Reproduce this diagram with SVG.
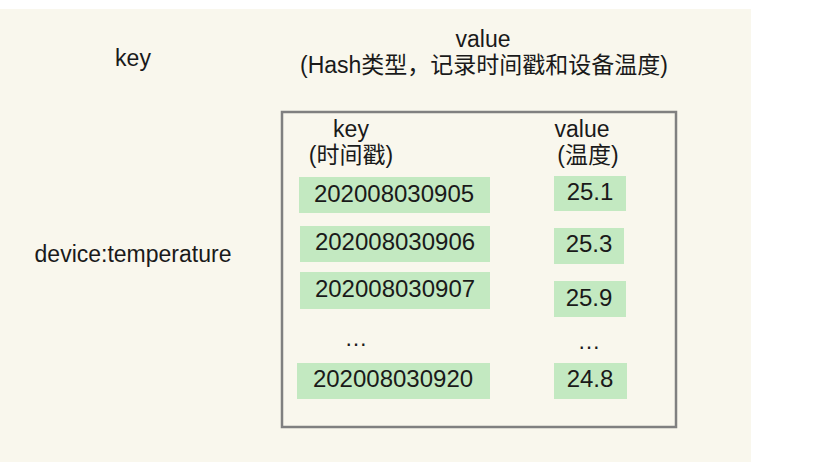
<svg xmlns="http://www.w3.org/2000/svg" width="816" height="462" viewBox="0 0 816 462">
<style>
text{font-family:"Liberation Sans","Noto Sans CJK SC",sans-serif;fill:#1a1a1a;text-anchor:middle}
.t{font-size:23px}
.d{font-size:24px}
.cell{fill:#c3e9c1}
</style>
<rect x="0" y="9" width="751" height="453" fill="#f9f7ed"/>
<g id="labels">
<text class="t" x="133" y="66">key</text>
<text class="t" x="483" y="47">value</text>
<text class="t" x="484" y="73">(Hash类型，记录时间戳和设备温度)</text>
<text class="t" x="133" y="262">device:temperature</text>
</g>
<g id="hash">
<rect x="282" y="112" width="394" height="315" fill="none" stroke="#808080" stroke-width="2.5"/>
<text class="t" x="351" y="137">key</text>
<text class="t" x="351" y="163">(时间戳)</text>
<text class="t" x="582" y="137">value</text>
<text class="t" x="588" y="163">(温度)</text>
</g>
<g id="row1">
<rect class="cell" x="299" y="177" width="191" height="36"/>
<text class="d" x="394" y="202">202008030905</text>
<rect class="cell" x="554" y="176" width="72" height="35"/>
<text class="d" x="590" y="200">25.1</text>
</g>
<g id="row2">
<rect class="cell" x="300" y="226" width="190" height="36"/>
<text class="d" x="395" y="250">202008030906</text>
<rect class="cell" x="554" y="228" width="70" height="36"/>
<text class="d" x="589" y="252">25.3</text>
</g>
<g id="row3">
<rect class="cell" x="300" y="272" width="190" height="37"/>
<text class="d" x="395" y="297">202008030907</text>
<rect class="cell" x="554" y="281" width="72" height="36"/>
<text class="d" x="589" y="306">25.9</text>
</g>
<g id="dots">
<text class="t" x="356" y="346">…</text>
<text class="t" x="589" y="349">…</text>
</g>
<g id="row5">
<rect class="cell" x="297" y="363" width="193" height="36"/>
<text class="d" x="393" y="387">202008030920</text>
<rect class="cell" x="554" y="363" width="73" height="36"/>
<text class="d" x="590" y="387">24.8</text>
</g>
<g id="connectors"></g>
</svg>
